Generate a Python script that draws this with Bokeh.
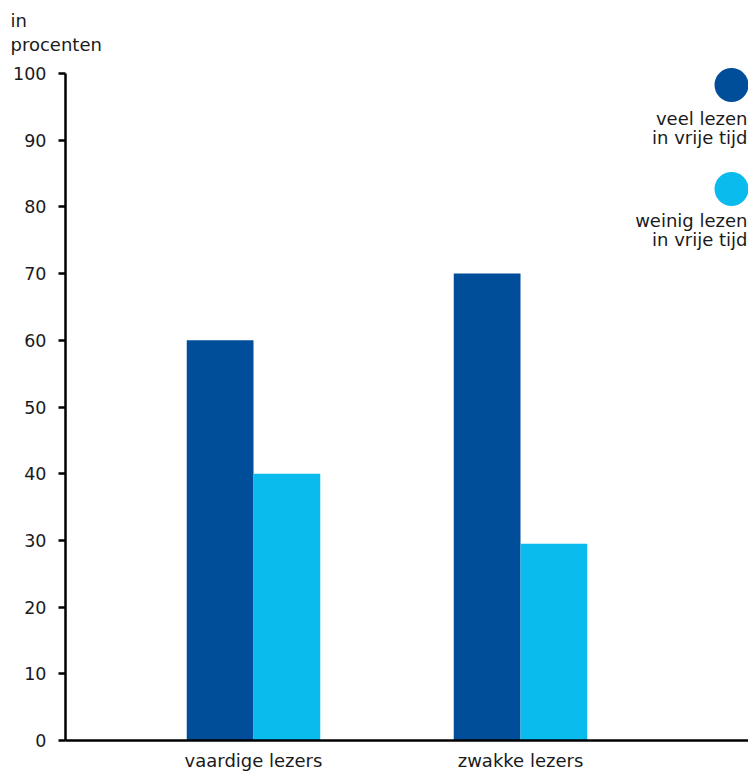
from bokeh.plotting import figure
from bokeh.models import Range1d, FixedTicker, Label
from bokeh.embed import file_html
from bokeh.resources import INLINE

categories = ["vaardige lezers", "zwakke lezers"]
series_names = ["veel lezen\nin vrije tijd", "weinig lezen\nin vrije tijd"]
veel = [60, 70]
weinig = [40, 29.5]
y_ticks = [0, 10, 20, 30, 40, 50, 60, 70, 80, 90, 100]
y_title = "in\nprocenten"

DARK = "#004d99"
LIGHT = "#0abbee"
FONT = "DejaVu Sans"
TXT = "#1a1a1a"

W, H = 748, 773
left, right, top, bottom = 65, 0, 62, 33
fw = W - left - right
fh = H - top - bottom

px_per_y = 667 / 100
yend = fh / px_per_y
px_per_x = 267
xstart = 1 - 188 / px_per_x
xend = xstart + fw / px_per_x

p = figure(width=W, height=H, output_backend="svg", toolbar_location=None,
           x_range=Range1d(xstart, xend), y_range=Range1d(0, yend),
           min_border_left=left, min_border_right=right, min_border_top=top,
           min_border_bottom=bottom)
p.outline_line_color = None
p.grid.visible = False
p.background_fill_color = "white"

p.title.text = y_title
p.title.align = "left"
p.title.offset = -55
p.title.standoff = 15
p.title.text_font = FONT
p.title.text_font_size = "18px"
p.title.text_font_style = "normal"
p.title.text_color = TXT
p.title.text_line_height = 1.15

xs = list(range(1, len(categories) + 1))
bw = 0.25
p.vbar(x=[x - bw / 2 for x in xs], top=veel, width=bw, bottom=0,
       fill_color=DARK, line_color=None)
p.vbar(x=[x + bw / 2 for x in xs], top=weinig, width=bw, bottom=0,
       fill_color=LIGHT, line_color=None)

xa = p.xaxis[0]
xa.ticker = FixedTicker(ticks=xs)
xa.major_label_overrides = {x: c for x, c in zip(xs, categories)}
xa.major_tick_out = 0
xa.major_tick_in = 0
xa.minor_tick_out = 0
xa.minor_tick_in = 0
xa.axis_line_width = 2.5
xa.axis_line_color = "black"
xa.major_label_standoff = 9
xa.major_label_text_font = FONT
xa.major_label_text_font_size = "18px"
xa.major_label_text_color = TXT

ya = p.yaxis[0]
ya.ticker = FixedTicker(ticks=y_ticks)
ya.bounds = (0, 100)
ya.major_tick_out = 7
ya.major_tick_in = 0
ya.minor_tick_out = 0
ya.minor_tick_in = 0
ya.major_tick_line_width = 2.5
ya.axis_line_width = 2.5
ya.axis_line_color = "black"
ya.major_tick_line_color = "black"
ya.major_label_standoff = 12
ya.major_label_text_font = FONT
ya.major_label_text_font_size = "17.5px"
ya.major_label_text_color = TXT


def dx(px):
    return xstart + (px - left) / px_per_x


def dy(py):
    return (740 - py) / px_per_y


colors = [DARK, LIGHT]
circ_py = [84.5, 188.5]
text_py = [107, 209]
for name, c, cy, ty in zip(series_names, colors, circ_py, text_py):
    p.scatter(x=[dx(731)], y=[dy(cy)], size=34, marker="circle",
              fill_color=c, line_color=None)
    p.add_layout(Label(x=dx(747), y=dy(ty), text=name, text_align="right",
                       text_baseline="top", text_font=FONT,
                       text_font_size="18px", text_color=TXT,
                       text_line_height=0.95))

open("out.html", "w").write(file_html(p, INLINE))
